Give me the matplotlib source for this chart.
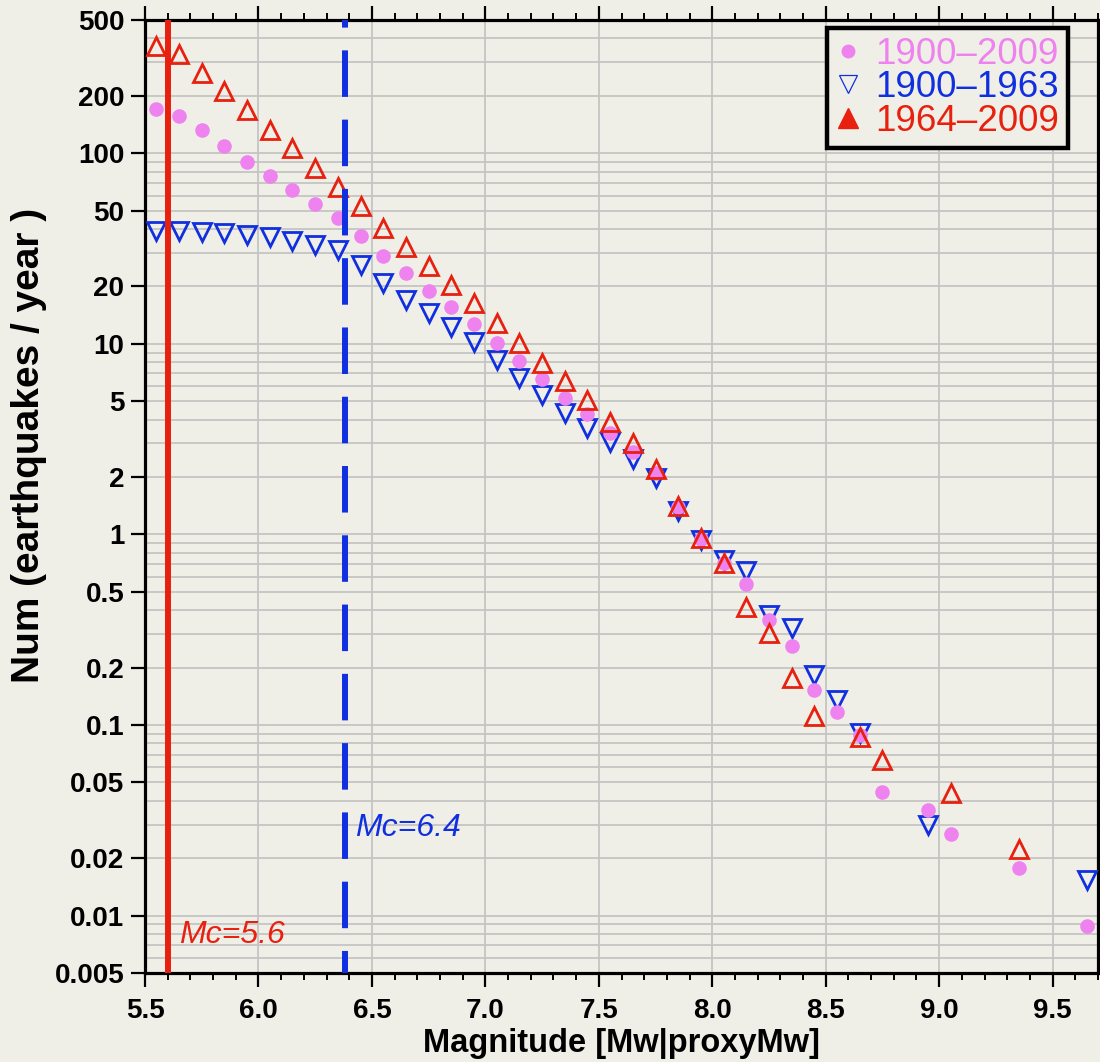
import numpy as np
import matplotlib.pyplot as plt
from matplotlib.lines import Line2D
from matplotlib.ticker import MultipleLocator, LogLocator, NullFormatter

# 1900-2009 (all events)
mag_all = [5.55, 5.65, 5.75, 5.85, 5.95, 6.05, 6.15, 6.25, 6.35, 6.45, 6.55, 6.65,
           6.75, 6.85, 6.95, 7.05, 7.15, 7.25, 7.35, 7.45, 7.55, 7.65, 7.75, 7.85,
           7.95, 8.05, 8.15, 8.25, 8.35, 8.45, 8.55, 8.65, 8.75, 8.95, 9.05, 9.35, 9.65]
rate_all = [171, 157, 132, 109, 90, 76, 64, 54, 46, 36.8, 29, 23.4,
            19, 15.6, 12.7, 10.1, 8.1, 6.5, 5.2, 4.27, 3.42, 2.72, 2.11, 1.40,
            0.95, 0.71, 0.547, 0.356, 0.261, 0.153, 0.117, 0.089, 0.0444, 0.0358, 0.0267, 0.0177, 0.0088]

# 1900-1963
mag_early = [5.55, 5.65, 5.75, 5.85, 5.95, 6.05, 6.15, 6.25, 6.35, 6.45, 6.55, 6.65,
             6.75, 6.85, 6.95, 7.05, 7.15, 7.25, 7.35, 7.45, 7.55, 7.65, 7.75, 7.85,
             7.95, 8.05, 8.15, 8.25, 8.35, 8.45, 8.55, 8.65, 8.95, 9.65]
rate_early = [39.3, 39, 38.5, 38.1, 37.2, 36.2, 34.8, 33, 31, 25.8, 20.9, 17,
              14.5, 12.3, 10.2, 8.2, 6.6, 5.4, 4.35, 3.6, 3.07, 2.5, 1.97, 1.33,
              0.93, 0.73, 0.645, 0.378, 0.321, 0.182, 0.136, 0.0905, 0.0299, 0.0154]

# 1964-2009
mag_late = [5.55, 5.65, 5.75, 5.85, 5.95, 6.05, 6.15, 6.25, 6.35, 6.45, 6.55, 6.65,
            6.75, 6.85, 6.95, 7.05, 7.15, 7.25, 7.35, 7.45, 7.55, 7.65, 7.75, 7.85,
            7.95, 8.05, 8.15, 8.25, 8.35, 8.45, 8.65, 8.75, 9.05, 9.35]
rate_late = [365, 332, 265, 212, 169, 133, 106, 84, 66.7, 52.9, 40.7, 32.3,
             25.7, 20.4, 16.3, 12.8, 10.1, 7.9, 6.4, 5.1, 3.9, 3.0, 2.2, 1.41,
             0.955, 0.705, 0.418, 0.305, 0.176, 0.111, 0.087, 0.0656, 0.0438, 0.0223]

mc_late = 5.6
mc_early = 6.38

y_ticks = [500, 200, 100, 50, 20, 10, 5, 2, 1, 0.5, 0.2, 0.1, 0.05, 0.02, 0.01, 0.005]
y_labels = ["500", "200", "100", "50", "20", "10", "5", "2", "1", "0.5", "0.2", "0.1",
            "0.05", "0.02", "0.01", "0.005"]

BG = "#f0efe7"
PINK = "#ee82ee"
BLUE = "#1030e0"
RED = "#e8200f"


def main() -> None:
    plt.rcParams["font.family"] = ["Liberation Sans", "DejaVu Sans"]
    fig = plt.figure(figsize=(11.0, 10.62), dpi=100, facecolor=BG)
    ax = fig.add_axes([145 / 1100, 1 - 973 / 1062, 953 / 1100, 953 / 1062])
    ax.set_facecolor(BG)

    ax.plot(mag_early, rate_early, linestyle="none", marker="v", markersize=13.5,
            markerfacecolor="none", markeredgecolor=BLUE, markeredgewidth=2.0, zorder=3)
    ax.plot(mag_all, rate_all, linestyle="none", marker="o", markersize=10.5,
            markerfacecolor=PINK, markeredgecolor="none", zorder=4)
    ax.plot(mag_late, rate_late, linestyle="none", marker="^", markersize=13.5,
            markerfacecolor="none", markeredgecolor=RED, markeredgewidth=2.0, zorder=5)

    ax.axvline(mc_late, color=RED, linewidth=4.3, zorder=6)
    ax.axvline(mc_early, color=BLUE, linewidth=4.3, linestyle=(4.1, (7.79, 3.81)), zorder=6)
    ax.text(5.65, 0.0079, "Mc=5.6", color=RED, fontsize=23, style="italic",
            ha="left", va="center", zorder=7)
    ax.text(6.425, 0.0288, "Mc=6.4", color=BLUE, fontsize=23, style="italic",
            ha="left", va="center", zorder=7)

    ax.set_yscale("log")
    ax.set_xlim(5.5, 9.7)
    ax.set_ylim(0.005, 500)
    ax.set_yticks(y_ticks, y_labels)
    ax.yaxis.set_minor_locator(LogLocator(base=10, subs=np.arange(1, 10), numticks=20))
    ax.yaxis.set_minor_formatter(NullFormatter())
    ax.xaxis.set_major_locator(MultipleLocator(0.5))
    ax.xaxis.set_minor_locator(MultipleLocator(0.1))
    ax.xaxis.set_major_formatter(plt.FormatStrFormatter("%.1f"))

    ax.grid(True, which="major", axis="x", color="#c4c4c4", linewidth=1.3)
    ax.grid(True, which="both", axis="y", color="#c4c4c4", linewidth=1.3)
    ax.set_axisbelow(True)

    ax.tick_params(axis="x", which="major", direction="out", length=10, width=1.6,
                   top=True, labelsize=20, pad=8)
    ax.tick_params(axis="x", which="minor", direction="out", length=5, width=1.4, top=True)
    ax.tick_params(axis="y", which="major", direction="out", length=10, width=1.6,
                   right=False, labelsize=20, pad=5)
    ax.tick_params(axis="y", which="minor", length=0)
    for lab in ax.get_xticklabels() + ax.get_yticklabels():
        lab.set_fontweight("bold")
    for sp in ax.spines.values():
        sp.set_linewidth(2.3)
        sp.set_color("black")

    ax.set_xlabel("Magnitude [Mw|proxyMw]", fontsize=23.5, fontweight="bold")
    ax.set_ylabel("Num (earthquakes / year )", fontsize=28, fontweight="bold")
    ax.xaxis.set_label_coords(0.5, -0.058)
    ax.yaxis.set_label_coords(-0.103, 0.554)

    handles = [
        Line2D([], [], linestyle="none", marker="o", markersize=10,
               markerfacecolor=PINK, markeredgecolor="none"),
        Line2D([], [], linestyle="none", marker="v", markersize=13,
               markerfacecolor="none", markeredgecolor=BLUE, markeredgewidth=0.9),
        Line2D([], [], linestyle="none", marker="^", markersize=14,
               markerfacecolor=RED, markeredgecolor=RED),
    ]
    labels = ["1900\u20132009", "1900\u20131963", "1964\u20132009"]
    leg = ax.legend(handles, labels, loc="upper right", bbox_to_anchor=(0.9685, 0.9916),
                    borderaxespad=0, fontsize=26.5, frameon=True, fancybox=False,
                    facecolor=BG, edgecolor="black", framealpha=1,
                    handlelength=0.65, handletextpad=0.4, labelspacing=-0.05,
                    borderpad=0.25)
    leg.get_frame().set_linewidth(3.2)
    for txt, col in zip(leg.get_texts(), [PINK, BLUE, RED]):
        txt.set_color(col)
    leg.set_zorder(10)

    fig.savefig("out.png", dpi=100, facecolor=BG)


if __name__ == "__main__":
    main()
